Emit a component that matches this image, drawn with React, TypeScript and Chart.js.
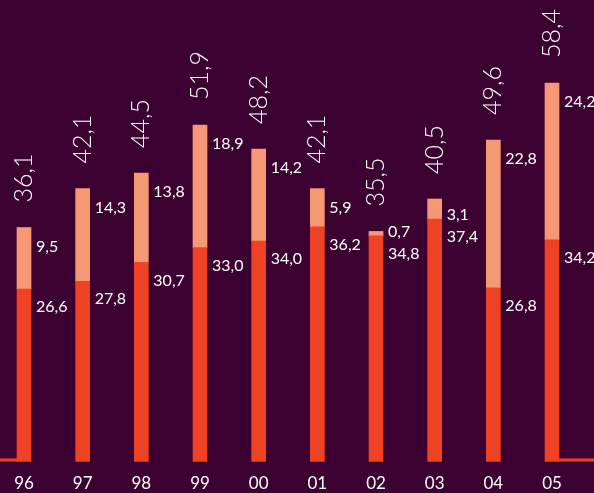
import React, { useEffect, useRef } from "react";
import { Chart, registerables } from "chart.js";

Chart.register(...registerables);

const categories = ["96", "97", "98", "99", "00", "01", "02", "03", "04", "05"];
const baseValues = [26.6, 27.8, 30.7, 33.0, 34.0, 36.2, 34.8, 37.4, 26.8, 34.2];
const topValues = [9.5, 14.3, 13.8, 18.9, 14.2, 5.9, 0.7, 3.1, 22.8, 24.2];
const totalLabels = ["36,1", "42,1", "44,5", "51,9", "48,2", "42,1", "35,5", "40,5", "49,6", "58,4"];

const BG = "#3b0131";
const RED = "#ef4123";
const SALMON = "#f69874";

const fmt = (v: number) => v.toFixed(1).replace(".", ",");

const labelPlugin = {
  id: "labels",
  beforeDraw(chart: any) {
    const ctx = chart.ctx;
    ctx.save();
    ctx.fillStyle = BG;
    ctx.fillRect(0, 0, chart.width, chart.height);
    ctx.restore();
  },
  afterDatasetsDraw(chart: any) {
    const ctx = chart.ctx;
    const m0 = chart.getDatasetMeta(0);
    const m1 = chart.getDatasetMeta(1);
    const yScale = chart.scales.y;
    const zero = yScale.getPixelForValue(0);
    ctx.save();
    // decorative baseline stubs
    const first = m0.data[0];
    const last = m0.data[m0.data.length - 1];
    ctx.fillStyle = RED;
    ctx.fillRect(0, zero - 3, first.x - first.width / 2, 3);
    ctx.fillRect(last.x + last.width / 2, zero - 3, chart.width - (last.x + last.width / 2), 3);

    ctx.fillStyle = "#ffffff";
    ctx.textBaseline = "middle";
    ctx.textAlign = "left";
    ctx.font = "16px Lato";
    for (let i = 0; i < categories.length; i++) {
      const b0 = m0.data[i];
      const b1 = m1.data[i];
      const xr = b0.x + b0.width / 2 + 5;
      const yBottom = b0.y + 18;
      const yTop = Math.min(b1.y + 19, yBottom - 22);
      ctx.fillText(fmt(baseValues[i]), xr, yBottom);
      ctx.fillText(fmt(topValues[i]), xr, yTop);
      // rotated total
      ctx.save();
      ctx.translate(b1.x + 8, b1.y - 25);
      ctx.rotate(-Math.PI / 2);
      ctx.font = "300 25px Lato";
      ctx.textBaseline = "alphabetic";
      ctx.fillText(totalLabels[i], 0, 0);
      ctx.restore();
    }
    ctx.restore();
  },
};

export default function App() {
  const ref = useRef<HTMLCanvasElement>(null);
  useEffect(() => {
    document.body.style.margin = "0";
    document.body.style.background = BG;
    const chart = new Chart(ref.current!, {
      type: "bar",
      data: {
        labels: categories,
        datasets: [
          { data: baseValues, backgroundColor: RED, barThickness: 14, clip: false as any },
          { data: topValues, backgroundColor: SALMON, barThickness: 14, clip: false as any },
        ],
      },
      options: {
        responsive: false,
        animation: false,
        devicePixelRatio: 1,
        layout: { padding: { left: 24, right: 42, top: 0, bottom: 0 } },
        plugins: { legend: { display: false }, tooltip: { enabled: false } },
        scales: {
          x: {
            stacked: true,
            offset: false,
            grid: { display: false, drawTicks: false },
            border: { display: false },
            ticks: { color: "#ffffff", font: { family: "Lato", size: 17 }, padding: 12, maxRotation: 0, autoSkip: false },
            afterFit: (s: any) => { s.height = 31.5; },
          },
          y: {
            stacked: true,
            display: false,
            min: 0,
            max: 71.2,
          },
        },
      },
      plugins: [labelPlugin],
    });
    return () => chart.destroy();
  }, []);
  return (
    <div style={{ width: 594, height: 493 }}>
      <canvas ref={ref} width={594} height={493} />
    </div>
  );
}
